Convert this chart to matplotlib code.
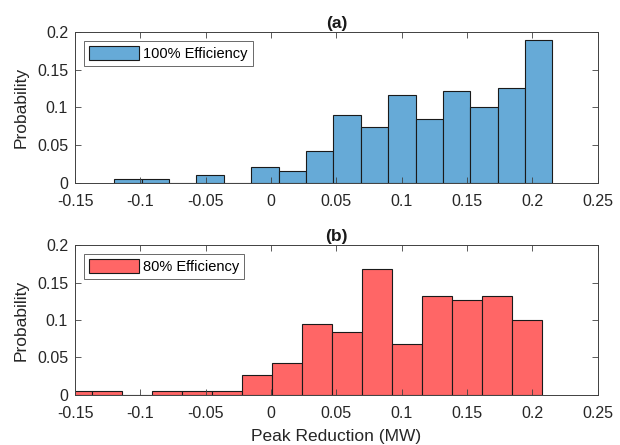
import matplotlib.pyplot as plt
import numpy as np

plt.rcParams["font.family"] = ["Liberation Sans", "DejaVu Sans"]

# histogram bin edges (MW) and probabilities
edges_a = [-0.1200, -0.0990, -0.0781, -0.0571, -0.0362, -0.0152, 0.0058,
           0.0267, 0.0477, 0.0686, 0.0896, 0.1106, 0.1315, 0.1525, 0.1734,
           0.1944, 0.2154]
prob_a = [0.0053, 0.0053, 0.0, 0.0105, 0.0, 0.0211, 0.0158, 0.0421,
          0.0895, 0.0737, 0.1158, 0.0842, 0.1211, 0.1000, 0.1263, 0.1895]

edges_b = [-0.1598, -0.1368, -0.1138, -0.0909, -0.0679, -0.0449, -0.0220,
           0.0010, 0.0240, 0.0470, 0.0699, 0.0929, 0.1159, 0.1388, 0.1618,
           0.1848, 0.2077]
prob_b = [0.0053, 0.0053, 0.0, 0.0053, 0.0053, 0.0053, 0.0263, 0.0421,
          0.0947, 0.0842, 0.1684, 0.0684, 0.1316, 0.1263, 0.1316, 0.1000]

x_ticks = [-0.15, -0.1, -0.05, 0, 0.05, 0.1, 0.15, 0.2, 0.25]
x_labels = ["-0.15", "-0.1", "-0.05", "0", "0.05", "0.1", "0.15", "0.2", "0.25"]
y_ticks = [0, 0.05, 0.1, 0.15, 0.2]
y_labels = ["0", "0.05", "0.1", "0.15", "0.2"]

panels = [
    ("(a)", edges_a, prob_a, "#66aad7", "100% Efficiency"),
    ("(b)", edges_b, prob_b, "#ff6666", "80% Efficiency"),
]

fig = plt.figure(figsize=(6.2, 4.45), dpi=100)
axes = [
    fig.add_axes([0.121, 0.5894, 0.843, 0.3387]),
    fig.add_axes([0.121, 0.1124, 0.843, 0.3370]),
]

axis_grey = "#404040"
text_col = "#262626"
for ax, (title, edges, prob, color, label) in zip(axes, panels):
    edges = np.asarray(edges)
    ax.bar(edges[:-1], prob, width=np.diff(edges), align="edge",
           color=color, edgecolor="#1a1a1a", linewidth=0.8, label=label)
    ax.set_xlim(-0.15, 0.25)
    ax.set_ylim(0, 0.2)
    ax.set_xticks(x_ticks)
    ax.set_xticklabels(x_labels)
    ax.set_yticks(y_ticks)
    ax.set_yticklabels(y_labels)
    ax.tick_params(direction="in", top=True, right=True, length=4.5,
                   width=0.6, color=axis_grey, labelsize=11.5,
                   labelcolor=text_col)
    ax.tick_params(axis="x", pad=8)
    ax.tick_params(axis="y", pad=5)
    for spine in ax.spines.values():
        spine.set_color(axis_grey)
        spine.set_linewidth(0.7)
    ax.set_ylabel("Probability", fontsize=12.5, color=text_col, labelpad=6)
    ax.set_title(title, fontsize=12.5, fontweight="bold", color="#1a1a1a",
                 pad=3)
    leg = ax.legend(loc="upper left", fontsize=10.5, handlelength=3.4,
                    handleheight=1.1, borderaxespad=0.62, fancybox=False,
                    borderpad=0.35, handletextpad=0.3)
    leg.get_frame().set_edgecolor(text_col)
    leg.get_frame().set_linewidth(0.6)

axes[1].set_xlabel("Peak Reduction (MW)", fontsize=12.5, color=text_col,
                   labelpad=6)

fig.savefig("out.png", dpi=100)
